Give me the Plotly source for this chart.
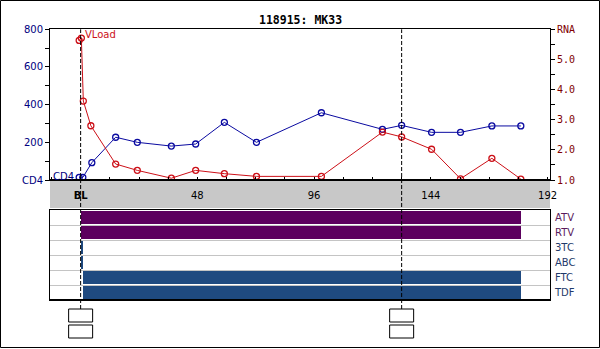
import plotly.graph_objects as go

# ---- data -------------------------------------------------------------
chart_title = "118915: MK33"

cd4_days = [-0.6, 0.9, 4.6, 14.4, 23.3, 37.3, 47.3, 59.1, 72.3, 99.0, 124.1, 132, 144.3, 156.2, 169.1, 181.0]
cd4_vals = [14, 14, 92, 227, 200, 180, 191, 306, 200, 357, 269, 290, 253, 253, 287, 287]

rna_days = [-0.6, 0.3, 1.1, 4.2, 14.4, 23.3, 37.3, 47.3, 59.1, 72.3, 99.0, 124.1, 132, 144.3, 156.2, 169.1, 181.0]
rna_log = [5.63, 5.71, 3.62, 2.80, 1.53, 1.32, 1.06, 1.32, 1.21, 1.12, 1.12, 2.59, 2.43, 2.02, 1.04, 1.72, 1.03]

x_tick_vals = [0, 48, 96, 144, 192]
x_tick_text = ["<b>BL</b>", "48", "96", "144", "192"]

cd4_tick_vals = [0, 200, 400, 600, 800]
cd4_tick_text = ["CD4", "200", "400", "600", "800"]

rna_tick_vals = [1, 2, 3, 4, 5, 6]
rna_tick_text = ["1.0", "2.0", "3.0", "4.0", "5.0", "RNA"]

drugs = ["ATV", "RTV", "3TC", "ABC", "FTC", "TDF"]
drug_start = [0, 0, 0, 0, 1, 1]
drug_stop = [181, 181, 1, 1, 181, 181]
drug_colors = ["#5c005e", "#5c005e", "#1f4a80", "#1f4a80", "#1f4a80", "#1f4a80"]
drug_label_colors = ["#5a1a5c", "#5a1a5c", "#1f3a6a", "#1f3a6a", "#1f3a6a", "#1f3a6a"]

event_days = [0, 132]

# ---- layout geometry (pixels of a 600 x 349 canvas) -------------------
W, H = 600, 349
def px_x(p):
    return p / W
def px_y(p):
    return 1 - p / H

X_LEFT, X_RIGHT = 50, 550
MAIN_TOP, MAIN_BOTTOM = 29.3, 180
LOW_TOP, LOW_BOTTOM = 210, 300
X_RANGE = [-12.6, 193.0]

SANS = "DejaVu Sans"
MONO = "DejaVu Sans Mono"
RED = "#cc1018"
BLUE = "#0a0aa0"

fig = go.Figure()

# CD4 counts (left axis)
fig.add_trace(go.Scatter(
    x=cd4_days, y=cd4_vals, mode="lines+markers",
    line=dict(color=BLUE, width=1),
    marker=dict(symbol="circle-open", size=6, color=BLUE, line=dict(width=1.3)),
    xaxis="x", yaxis="y", hoverinfo="skip"))

# Viral load, log10 copies (right axis)
fig.add_trace(go.Scatter(
    x=rna_days, y=rna_log, mode="lines+markers",
    line=dict(color=RED, width=1),
    marker=dict(symbol="circle-open", size=6, color=RED, line=dict(width=1.3)),
    xaxis="x", yaxis="y2", hoverinfo="skip"))

# Drug exposure bars
n = len(drugs)
row_pos = [n - 0.5 - i for i in range(n)]
fig.add_trace(go.Bar(
    orientation="h",
    y=row_pos,
    base=drug_start,
    x=[b - a for a, b in zip(drug_start, drug_stop)],
    width=0.93,
    marker=dict(color=drug_colors, line=dict(width=0)),
    xaxis="x2", yaxis="y3", hoverinfo="skip"))

axis_common = dict(showgrid=False, zeroline=False, showline=True,
                   linecolor="black", linewidth=1, automargin=False)

fig.update_layout(
    width=W, height=H,
    margin=dict(l=0, r=0, t=0, b=0, pad=0),
    paper_bgcolor="white", plot_bgcolor="white",
    showlegend=False,
    bargap=0,
    xaxis=dict(
        **axis_common, mirror=True,
        domain=[px_x(X_LEFT), px_x(X_RIGHT)], range=X_RANGE, anchor="y",
        tickvals=x_tick_vals, ticktext=x_tick_text,
        ticks="inside", ticklen=3, tickcolor="black",
        minor=dict(dtick=12, tick0=0, ticks="inside", ticklen=3, tickcolor="black"),
        tickfont=dict(family=SANS, size=10, color="black"),
        ticklabelstandoff=6,
    ),
    yaxis=dict(
        **axis_common,
        domain=[px_y(MAIN_BOTTOM), px_y(MAIN_TOP)], range=[0, 800], anchor="x",
        tickvals=cd4_tick_vals, ticktext=cd4_tick_text,
        ticks="outside", ticklen=4, tickcolor="black",
        minor=dict(tickvals=[100, 300, 500, 700], ticks="outside", ticklen=4, tickcolor="black"),
        tickfont=dict(family=SANS, size=10, color="#000080"),
    ),
    yaxis2=dict(
        **axis_common,
        overlaying="y", side="right", range=[1, 6], anchor="x",
        tickvals=rna_tick_vals, ticktext=rna_tick_text,
        ticks="outside", ticklen=4, tickcolor="black",
        minor=dict(tickvals=[1.5, 2.5, 3.5, 4.5, 5.5], ticks="outside", ticklen=4, tickcolor="black"),
        tickfont=dict(family=MONO, size=10, color="#800000"),
    ),
    xaxis2=dict(
        **axis_common, mirror=True,
        domain=[px_x(X_LEFT), px_x(X_RIGHT)], range=X_RANGE, anchor="y3",
        showticklabels=False, ticks="",
    ),
    yaxis3=dict(
        **axis_common, mirror=True,
        domain=[px_y(LOW_BOTTOM), px_y(LOW_TOP)], range=[0, n], anchor="x2",
        side="right",
        tickvals=row_pos,
        ticktext=[f"<span style='color:{c}'>{d}</span>" for d, c in zip(drugs, drug_label_colors)],
        ticks="",
        minor=dict(tickvals=list(range(1, n)), showgrid=True, gridcolor="#c4c4c4", gridwidth=1, ticks=""),
        tickfont=dict(family=SANS, size=10),
        ticklabelstandoff=2,
    ),
)

shapes = []
# grey band holding the time axis labels
shapes.append(dict(type="rect", xref="paper", yref="paper",
                   x0=px_x(X_LEFT), x1=px_x(X_RIGHT), y0=px_y(208), y1=px_y(181),
                   fillcolor="#c8c8c8", line=dict(width=0), layer="below"))
# heavier baselines under both panels
shapes.append(dict(type="line", xref="paper", yref="y", x0=px_x(X_LEFT), x1=px_x(X_RIGHT),
                   y0=0, y1=0, line=dict(color="black", width=2)))
shapes.append(dict(type="line", xref="paper", yref="y3", x0=px_x(X_LEFT), x1=px_x(X_RIGHT),
                   y0=0, y1=0, line=dict(color="black", width=2)))
# event markers: dashed line plus two empty boxes beneath
for d in event_days:
    shapes.append(dict(type="line", xref="x", yref="paper", x0=d, x1=d,
                       y0=px_y(309), y1=px_y(MAIN_TOP),
                       line=dict(color="black", width=1, dash="4px,2px"), layer="above"))
    for top, bot in [(309, 322), (325, 338)]:
        shapes.append(dict(type="rect", xref="x", xsizemode="pixel", xanchor=d,
                           x0=-12, x1=12, yref="paper", y0=px_y(bot), y1=px_y(top),
                           line=dict(color="black", width=1), fillcolor="white"))
# outer frame
shapes.append(dict(type="rect", xref="paper", yref="paper",
                   x0=0.5 / W, x1=599.5 / W, y0=1.5 / H, y1=1 - 0.5 / H,
                   line=dict(color="black", width=1)))
fig.update_layout(shapes=shapes)

# series labels and title
i_peak = rna_log.index(max(rna_log))
annotations = [
    dict(x=rna_days[i_peak], y=rna_log[i_peak], xref="x", yref="y2",
         text="VLoad", showarrow=False, xanchor="left", yanchor="middle",
         xshift=2, yshift=4, font=dict(family=SANS, size=10, color=RED)),
    dict(x=cd4_days[0], y=cd4_vals[0], xref="x", yref="y",
         text="CD4", showarrow=False, xanchor="right", yanchor="middle",
         xshift=-3, yshift=1, font=dict(family=SANS, size=10, color="#000080")),
    dict(x=0.5, y=px_y(20), xref="paper", yref="paper",
         text=f"<b>{chart_title}</b>", showarrow=False, xanchor="center", yanchor="middle",
         font=dict(family=MONO, size=11.5, color="black")),
]
fig.update_layout(annotations=annotations)

fig.write_html("out.html")
